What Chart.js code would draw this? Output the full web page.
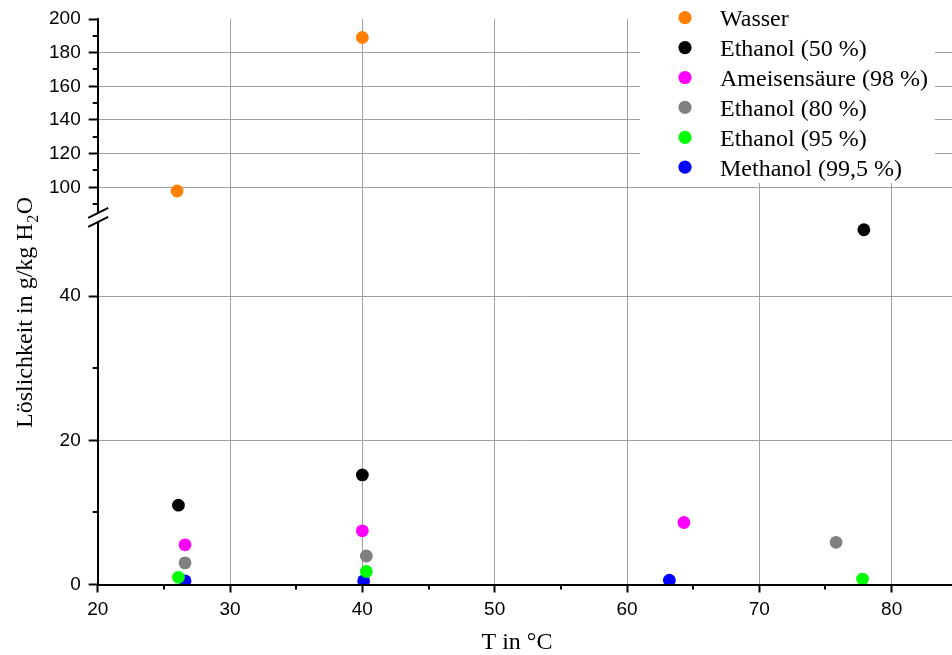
<!DOCTYPE html>
<html>
<head>
<meta charset="utf-8">
<script src="https://cdn.jsdelivr.net/npm/chart.js@4.4.1/dist/chart.umd.min.js"></script>
<style>
  html, body { margin: 0; padding: 0; background: #fff; }
  canvas { display: block; }
</style>
</head>
<body>
<canvas id="c" width="952" height="655"></canvas>
<script>
// Löslichkeit verschiedener Lösungsmittel über der Temperatur
const seriesNames = ['Wasser', 'Ethanol (50 %)', 'Ameisensäure (98 %)', 'Ethanol (80 %)', 'Ethanol (95 %)', 'Methanol (99,5 %)'];
const seriesColors = ['#ff8000', '#000000', '#ff00ff', '#808080', '#00ff00', '#0000ff'];

const wasserT = [26.0, 40.0];
const wasserS = [97.8, 189.0];
const ethanol50T = [26.1, 40.0, 77.9];
const ethanol50S = [11.0, 15.2, 49.2];
const ameiseT = [26.6, 40.0, 64.3];
const ameiseS = [5.5, 7.45, 8.6];
const ethanol80T = [26.6, 40.3, 75.8];
const ethanol80S = [3.0, 3.95, 5.85];
const ethanol95T = [26.1, 40.3, 77.8];
const ethanol95S = [1.0, 1.8, 0.75];
const methanolT = [26.6, 40.1, 63.2];
const methanolS = [0.5, 0.5, 0.6];

const xTicks = [20, 30, 40, 50, 60, 70, 80];
const xMinorTicks = [25, 35, 45, 55, 65, 75];
const yLowTicks = [0, 20, 40];
const yLowMinorTicks = [10, 30];
const yHighTicks = [100, 120, 140, 160, 180, 200];
const yHighMinorTicks = [90, 110, 130, 150, 170, 190];

const serif = "'Liberation Serif', 'Times New Roman', serif";
const sans = "'Liberation Sans', Arial, sans-serif";
const gridGrey = '#a0a0a0';

const pts = (xs, ys) => xs.map((x, i) => ({ x: x, y: ys[i] }));
const seriesData = [
  pts(wasserT, wasserS),
  pts(ethanol50T, ethanol50S),
  pts(ameiseT, ameiseS),
  pts(ethanol80T, ethanol80S),
  pts(ethanol95T, ethanol95S),
  pts(methanolT, methanolS)
];

const datasets = seriesData.map((d, i) => ({
  label: seriesNames[i],
  data: d,
  yAxisID: i === 0 ? 'yHigh' : 'yLow',
  backgroundColor: seriesColors[i],
  borderColor: seriesColors[i],
  borderWidth: 0,
  pointRadius: 6.4,
  pointHoverRadius: 6.4
}));

const fixTicks = list => scale => { scale.ticks = list.map(v => ({ value: v })); };

// Achsenbruch, Nebenstriche, Legende und Achsentitel
const decorations = {
  id: 'decorations',
  afterDatasetsDraw(chart) {
    const ctx = chart.ctx;
    const xs = chart.scales.x, yl = chart.scales.yLow, yh = chart.scales.yHigh;
    const area = chart.chartArea;
    const ax = area.left;
    ctx.save();

    // x-Achse über den Punkten
    const y0 = yl.getPixelForValue(0);
    ctx.fillStyle = '#000';
    ctx.fillRect(ax - 1, Math.round(y0) - 1, area.right - ax + 1, 2);

    // Nebenstriche
    ctx.strokeStyle = '#000';
    ctx.lineWidth = 2;
    ctx.beginPath();
    xMinorTicks.forEach(v => {
      const px = Math.round(xs.getPixelForValue(v));
      ctx.moveTo(px, y0);
      ctx.lineTo(px, y0 + 5);
    });
    yLowMinorTicks.forEach(v => {
      const py = Math.round(yl.getPixelForValue(v));
      ctx.moveTo(ax, py);
      ctx.lineTo(ax - 5, py);
    });
    yHighMinorTicks.forEach(v => {
      const py = Math.round(yh.getPixelForValue(v));
      ctx.moveTo(ax, py);
      ctx.lineTo(ax - 5, py);
    });
    ctx.stroke();

    // Achsenbruch
    const seam = yh.bottom;
    ctx.fillStyle = '#fff';
    ctx.fillRect(ax - 3, seam - 4, 6, 8.5);
    ctx.strokeStyle = '#000';
    ctx.lineWidth = 2;
    ctx.beginPath();
    [seam - 4.3, seam + 4.7].forEach(c => {
      ctx.moveTo(ax - 9.5, c + 4.75);
      ctx.lineTo(ax + 10.5, c - 5.25);
    });
    ctx.stroke();

    // Legende
    ctx.fillStyle = '#fff';
    ctx.fillRect(640, 0, 295, 183);
    ctx.font = '24px ' + serif;
    ctx.textAlign = 'left';
    ctx.textBaseline = 'alphabetic';
    chart.data.datasets.forEach((ds, i) => {
      const cy = 17.7 + i * 29.9;
      ctx.fillStyle = ds.backgroundColor;
      ctx.beginPath();
      ctx.arc(685, cy, 6.6, 0, Math.PI * 2);
      ctx.fill();
      ctx.fillStyle = '#000';
      ctx.fillText(ds.label, 720, cy + 8.3);
    });

    // x-Achsentitel
    ctx.textAlign = 'center';
    ctx.fillText('T in °C', 517, 649);

    // y-Achsentitel mit tiefgestellter 2
    const big = '24px ' + serif, small = '16px ' + serif;
    const partA = 'Löslichkeit in g/kg H', partB = '2', partC = 'O';
    ctx.font = big;
    const wA = ctx.measureText(partA).width, wC = ctx.measureText(partC).width;
    ctx.font = small;
    const wB = ctx.measureText(partB).width;
    const total = wA + wB + wC + 1;
    ctx.translate(31.5, 312.5 + total / 2);
    ctx.rotate(-Math.PI / 2);
    ctx.textAlign = 'left';
    ctx.font = big;
    ctx.fillText(partA, 0, 0);
    ctx.font = small;
    ctx.fillText(partB, wA + 0.5, 6);
    ctx.font = big;
    ctx.fillText(partC, wA + wB + 1, 0);

    ctx.restore();
  }
};

const axisGrid = (len, hide) => ({
  color: ctx => (hide && ctx.tick && ctx.tick.value === hide) ? 'rgba(0,0,0,0)' : gridGrey,
  lineWidth: 1,
  tickColor: '#000',
  tickWidth: 2,
  tickLength: len
});

const tickStyle = pad => ({
  font: { family: sans, size: 19 },
  color: '#000',
  padding: pad,
  maxRotation: 0,
  autoSkip: false
});

new Chart(document.getElementById('c'), {
  type: 'scatter',
  data: { datasets: datasets },
  plugins: [decorations],
  options: {
    responsive: false,
    animation: false,
    events: [],
    layout: { autoPadding: false, padding: { top: 19, right: 0, left: 0, bottom: 0 } },
    plugins: { legend: { display: false }, tooltip: { enabled: false } },
    scales: {
      x: {
        type: 'linear',
        min: 20,
        max: 84.56,
        afterBuildTicks: fixTicks(xTicks),
        afterFit: s => { s.height = 70.5; s.paddingLeft = 0; s.paddingRight = 0; },
        grid: axisGrid(8),
        border: { color: '#000', width: 2 },
        ticks: tickStyle(6)
      },
      yLow: {
        type: 'linear',
        position: 'left',
        stack: 'loeslichkeit',
        stackWeight: 367,
        min: 0,
        max: 50.9,
        afterBuildTicks: fixTicks(yLowTicks),
        afterFit: s => { s.width = 97.7; s.paddingTop = 0; s.paddingBottom = 0; },
        grid: axisGrid(9),
        border: { color: '#000', width: 2 },
        ticks: tickStyle(8)
      },
      yHigh: {
        type: 'linear',
        position: 'left',
        stack: 'loeslichkeit',
        stackWeight: 198.5,
        min: 82.06,
        max: 200,
        afterBuildTicks: fixTicks(yHighTicks),
        afterFit: s => { s.width = 97.7; s.paddingTop = 0; s.paddingBottom = 0; },
        grid: axisGrid(9, 200),
        border: { color: '#000', width: 2 },
        ticks: tickStyle(8)
      }
    }
  }
});
</script>
</body>
</html>
